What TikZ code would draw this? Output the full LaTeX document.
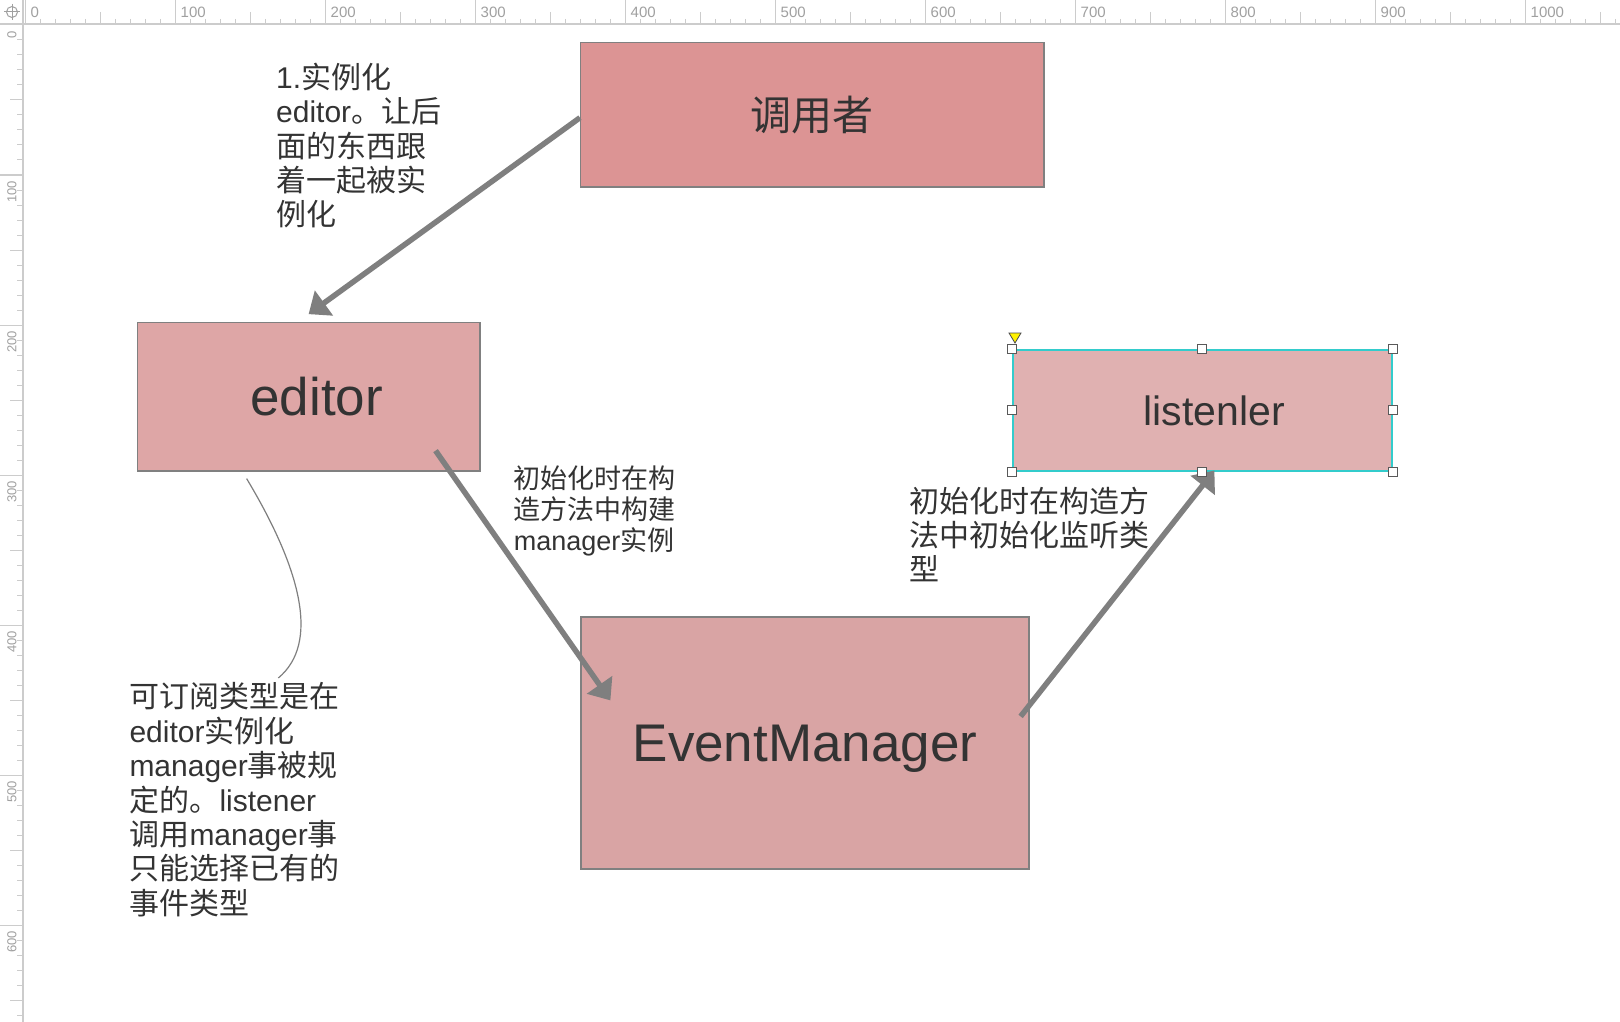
\documentclass[tikz,border=0pt]{standalone}
\usepackage{fontspec}
\setmainfont{Liberation Sans}
\newfontfamily\cjk{Noto Sans CJK SC}
\usetikzlibrary{arrows.meta,calc}

\definecolor{callerfill}{HTML}{DC9494}
\definecolor{editorfill}{HTML}{DEA6A6}
\definecolor{managerfill}{HTML}{D9A4A4}
\definecolor{listenerfill}{HTML}{E0B1B1}
\definecolor{boxline}{HTML}{808080}
\definecolor{ink}{HTML}{333333}
\definecolor{flowgray}{HTML}{7F7F7F}
\definecolor{rulerline}{HTML}{CCCCCC}
\definecolor{rulertext}{HTML}{A0A0A0}
\definecolor{selcyan}{HTML}{33CCCC}

\tikzset{
  box/.style={draw=boxline, line width=1.2pt, inner sep=0pt, text=ink},
  note/.style={anchor=north west, align=left, inner sep=0pt, text=ink, font=\fontsize{30}{34.2}\selectfont},
  flow/.style={draw=flowgray, line width=5.5pt, -{Triangle[length=19pt,width=30pt]}},
  handle/.style={draw=black!65, fill=white, line width=1pt, minimum size=9pt, inner sep=0pt},
  tick/.style={rulerline, line width=1pt},
  ticklabel/.style={text=rulertext, inner sep=0pt},
}

\begin{document}
\begin{tikzpicture}[x=1pt, y=-1pt]
\useasboundingbox (0,0) rectangle (1620,1022);
\fill[white] (0,0) rectangle (1620,1022);

\foreach \u in {0,10,...,1060} {
  \draw[tick] (25.5+1.5*\u,19) -- (25.5+1.5*\u,24);
}
\foreach \u in {50,150,...,1050} {
  \draw[tick] (25.5+1.5*\u,12) -- (25.5+1.5*\u,24);
}
\foreach \u in {0,100,...,1000} {
  \draw[tick] (25.5+1.5*\u,0) -- (25.5+1.5*\u,24);
  \node[ticklabel, anchor=west, font=\fontsize{15}{15}\selectfont] (top\u) at (25.5+1.5*\u+5,12.5) {\u};
}
\foreach \v in {0,10,...,660} {
  \draw[tick] (17,25+1.5*\v) -- (23,25+1.5*\v);
}
\foreach \v in {50,150,...,650} {
  \draw[tick] (10,25+1.5*\v) -- (23,25+1.5*\v);
}
\foreach \v in {0,100,...,600} {
  \draw[tick] (0,25+1.5*\v) -- (23,25+1.5*\v);
  \node[ticklabel, rotate=90, anchor=east, font=\fontsize{13}{13}\selectfont] (side\v) at (12,25+1.5*\v+6) {\v};
}
\draw[rulerline, line width=1.5pt] (0,24) -- (1620,24);
\draw[rulerline, line width=1.5pt] (23,0) -- (23,1022);
\draw[rulertext, line width=1pt] (12,12) circle (5.5);
\draw[rulertext, line width=1pt] (4,12) -- (20,12) (12,4) -- (12,20);

\node[box, fill=callerfill, minimum width=463.5pt, minimum height=144.6pt, font={\fontsize{41}{41}\selectfont\cjk}] (caller) at (812.3,114.7) {调用者};
\node[box, fill=editorfill, minimum width=342.7pt, minimum height=148.3pt, font=\fontsize{53}{53}\selectfont] (editor) at (308.6,396.9) {\hspace*{16pt}editor};
\node[box, fill=managerfill, minimum width=448pt, minimum height=252pt, text depth=0pt, font=\fontsize{53}{53}\selectfont] (manager) at (805,743) {EventManager};
\node[box, draw=selcyan, line width=1.5pt, fill=listenerfill, minimum width=379.3pt, minimum height=120.7pt, font=\fontsize{41}{41}\selectfont] (listener) at (1202.4,410.4) {\hspace*{24pt}listenler};

\node[note] (instNote) at (276,63) {1.{\cjk 实例化}\\editor{\cjk 。让后}\\{\cjk 面的东西跟}\\{\cjk 着一起被实}\\{\cjk 例化}};
\node[note, font=\fontsize{27}{31}\selectfont] (ctorNote) at (513.7,465.5) {{\cjk 初始化时在构}\\{\cjk 造方法中构建}\\manager{\cjk 实例}};
\node[note, font=\fontsize{30}{34}\selectfont] (listenNote) at (909,486.5) {{\cjk 初始化时在构造方}\\{\cjk 法中初始化监听类}\\{\cjk 型}};
\node[note, font=\fontsize{30}{34.4}\selectfont] (typeNote) at (129.3,682.5) {{\cjk 可订阅类型是在}\\editor{\cjk 实例化}\\manager{\cjk 事被规}\\{\cjk 定的。}listener\\{\cjk 调用}manager{\cjk 事}\\{\cjk 只能选择已有的}\\{\cjk 事件类型}};

\coordinate (edOut) at ($(editor.south east)+(-45,-21)$);
\coordinate (emIn) at ($(manager.north west)+(30,84)$);
\coordinate (emOut) at ($(manager.north east)+(-9,100)$);
\coordinate (lsIn) at ($(listener.south)+(12,-1)$);
\coordinate (edFoot) at ($(editor.south west)+(110,7)$);
\coordinate (noteTop) at ($(typeNote.north west)+(149,-4.5)$);

\draw[flow] ([yshift=-3pt]caller.west) -- ([yshift=8pt]editor.north);
\draw[flow] (edOut) -- (emIn);
\draw[flow] (emOut) -- (lsIn);
\draw[flowgray, line width=1.2pt] (edFoot) .. controls +(54,90) and +(42,-35) .. (noteTop);

\foreach \p [count=\i] in {north west,north,north east,east,south east,south,south west,west} {
  \node[handle] (hd\i) at (listener.\p) {};
}
\draw[fill=yellow, draw=black!70, line width=0.8pt] (1009,333) -- (1021,333) -- (1015,343) -- cycle;
\end{tikzpicture}
\end{document}
